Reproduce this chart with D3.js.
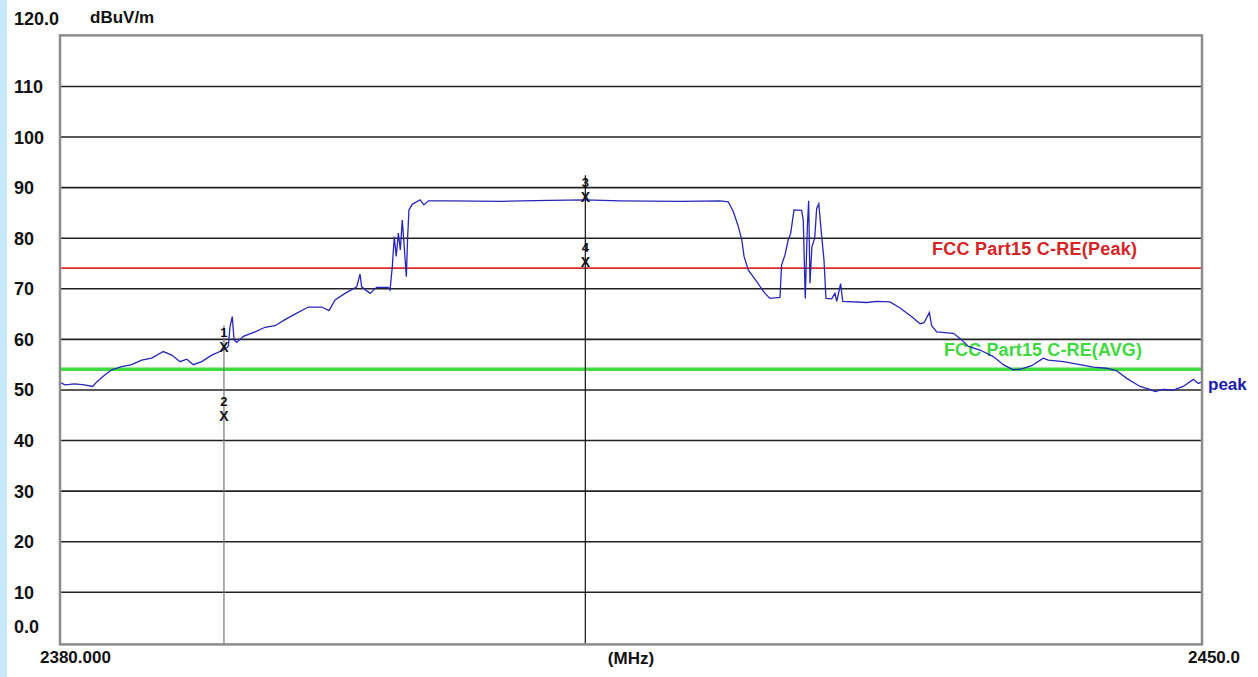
<!DOCTYPE html>
<html>
<head>
<meta charset="utf-8">
<script src="https://cdn.jsdelivr.net/npm/d3@7"></script>
<style>
  body { margin: 0; background: #fff; }
  svg text { font-family: "Liberation Sans", Arial, sans-serif; font-weight: bold; }
</style>
</head>
<body>
<div id="chart"></div>
<script>
// peak trace (MHz, dBuV/m)
var freq = [2380.0, 2380.3, 2380.9, 2381.5, 2382.0, 2382.25, 2382.76, 2383.17, 2383.78, 2384.39,
            2385.01, 2385.62, 2386.33, 2386.85, 2387.36, 2387.77, 2388.17, 2388.69, 2389.30, 2390.01,
            2390.32, 2390.42, 2390.56, 2390.67, 2390.83, 2391.24, 2391.95, 2392.57, 2393.18, 2393.79,
            2394.40, 2395.22, 2396.04, 2396.49, 2396.86, 2397.47, 2398.19, 2398.39, 2398.49, 2399.00,
            2399.41, 2400.12, 2400.23, 2400.37, 2400.49, 2400.61, 2400.74, 2400.86, 2400.98, 2401.10,
            2401.23, 2401.31, 2401.39, 2401.59, 2402.07, 2402.31, 2402.58, 2403.91, 2406.97, 2410.04,
            2412.18, 2414.33, 2418.00, 2420.46, 2420.96, 2421.27, 2421.58, 2421.79, 2421.93, 2422.19,
            2422.71, 2423.21, 2423.52, 2424.13, 2424.23, 2424.44, 2424.64, 2424.79, 2424.99, 2425.46,
            2425.56, 2425.68, 2425.81, 2425.89, 2425.97, 2426.09, 2426.26, 2426.38, 2426.51, 2426.67,
            2426.83, 2426.95, 2427.30, 2427.50, 2427.61, 2427.85, 2427.98, 2429.45, 2430.06, 2430.88,
            2431.49, 2432.21, 2432.72, 2432.96, 2433.29, 2433.43, 2433.74, 2434.76, 2435.17, 2435.68,
            2436.39, 2437.21, 2437.82, 2438.43, 2438.84, 2439.56, 2440.27, 2440.58, 2441.50, 2442.52,
            2443.34, 2444.16, 2444.77, 2445.39, 2446.20, 2446.81, 2447.12, 2447.63, 2448.24, 2448.85,
            2449.47, 2449.77, 2450.0];
var peak = [51.4, 50.9, 51.1, 50.9, 50.6, 51.5, 52.9, 53.9, 54.5, 54.9,
            55.8, 56.2, 57.5, 56.8, 55.5, 56.0, 54.9, 55.5, 56.8, 57.8,
            58.5, 62.4, 64.4, 59.8, 59.3, 60.5, 61.4, 62.3, 62.6, 63.8,
            64.9, 66.3, 66.3, 65.6, 67.7, 69.0, 70.3, 72.8, 70.3, 69.0,
            70.2, 70.2, 69.7, 74.3, 80.2, 76.3, 80.9, 77.6, 83.5, 78.2,
            72.3, 80.2, 85.5, 86.6, 87.5, 86.5, 87.3, 87.3, 87.2, 87.4,
            87.5, 87.3, 87.2, 87.3, 87.1, 85.2, 82.2, 79.6, 76.3, 73.6,
            71.3, 69.0, 68.0, 68.2, 74.6, 76.6, 79.6, 80.9, 85.5, 85.4,
            83.5, 68.0, 82.2, 87.3, 71.0, 78.2, 79.9, 85.8, 86.7, 80.9,
            75.6, 68.0, 67.9, 69.0, 67.4, 70.9, 67.4, 67.2, 67.4, 67.3,
            66.1, 64.4, 63.0, 63.2, 65.2, 62.6, 61.4, 61.1, 60.1, 58.5,
            57.8, 56.5, 54.9, 53.9, 54.0, 54.7, 56.2, 55.8, 55.5, 54.9,
            54.4, 54.2, 53.7, 52.2, 50.6, 50.0, 49.6, 50.0, 49.9, 50.6,
            52.0, 51.2, 51.5];

var yTicks = [0, 10, 20, 30, 40, 50, 60, 70, 80, 90, 100, 110, 120];
var yTickLabels = ["0.0", "10", "20", "30", "40", "50", "60", "70", "80", "90", "100", "110", "120.0"];

var limitNames = ["FCC Part15 C-RE(Peak)", "FCC Part15 C-RE(AVG)"];
var limitValues = [74, 54];

var markerIds = ["1", "2", "3", "4"];
var markerFreq = [2390.05, 2390.05, 2412.2, 2412.2];
var markerLevel = [58.3, 44.8, 88.0, 75.3];

var W = 1258, H = 677;
var pL = 60, pR = 1202, pT = 35.4, pB = 642.4;

var x = d3.scaleLinear().domain([2380, 2450]).range([pL, pR]);
var y = d3.scaleLinear().domain([0, 120]).range([pB, pT]);

var svg = d3.select('#chart').append('svg')
  .attr('width', W).attr('height', H);

svg.append('rect').attr('x', 0).attr('y', 0).attr('width', 7).attr('height', H)
  .attr('fill', '#c6eafa');

// horizontal grid + y labels
var yAxis = svg.append('g')
  .attr('transform', 'translate(' + pL + ',0)')
  .call(d3.axisLeft(y).tickValues(yTicks)
    .tickSize(-(pR - pL))
    .tickFormat(function(d, i) { return yTickLabels[i]; }));
yAxis.select('.domain').remove();
yAxis.selectAll('.tick line')
  .attr('stroke', function(d) { return (d == 0 || d == 120) ? 'none' : '#222'; })
  .attr('stroke-width', 1.6);
yAxis.selectAll('.tick text')
  .attr('x', 14 - pL)
  .attr('dy', function(d) { return d == 0 ? '-0.55em' : (d == 120 ? '-0.6em' : '0.36em'); })
  .attr('text-anchor', 'start')
  .attr('fill', '#111')
  .style('font-size', '18px');

svg.append('text').attr('x', 90).attr('y', 23).attr('fill', '#111')
  .style('font-size', '17px').text('dBuV/m');

// limit lines
var limColors = ['#dd2b2b', '#3fdc3f'];
var limWidths = [1.6, 3.4];
svg.selectAll('line.limit').data(limitValues).enter().append('line')
  .attr('class', 'limit')
  .attr('x1', pL).attr('x2', pR)
  .attr('y1', function(d) { return y(d); }).attr('y2', function(d) { return y(d); })
  .attr('stroke', function(d, i) { return limColors[i]; })
  .attr('stroke-width', function(d, i) { return limWidths[i]; });

var labX = [932, 944];
var labDy = [-13, -13];
svg.selectAll('text.limit').data(limitNames).enter().append('text')
  .attr('class', 'limit')
  .attr('x', function(d, i) { return labX[i]; })
  .attr('y', function(d, i) { return y(limitValues[i]) + labDy[i]; })
  .attr('fill', function(d, i) { return i == 0 ? '#d42424' : '#40d840'; })
  .style('font-size', '18px')
  .attr('textLength', function(d, i) { return i == 0 ? 205 : 198; })
  .text(function(d) { return d; });

// marker lines
var mLineColor = ['#777', '#777', '#111', '#111'];
svg.selectAll('line.mk').data([0, 2]).enter().append('line')
  .attr('class', 'mk')
  .attr('x1', function(i) { return x(markerFreq[i]); })
  .attr('x2', function(i) { return x(markerFreq[i]); })
  .attr('y1', function(i) { return y(markerLevel[i]) - 22; })
  .attr('y2', pB + 2)
  .attr('stroke', function(i) { return mLineColor[i]; })
  .attr('stroke-width', 1.2);

// trace
var pts = freq.map(function(f, i) { return [f, peak[i]]; });
var line = d3.line()
  .x(function(d) { return x(d[0]); })
  .y(function(d) { return y(d[1]); });
svg.append('path').datum(pts)
  .attr('d', line)
  .attr('fill', 'none')
  .attr('stroke', '#2626b8')
  .attr('stroke-width', 1.3);

svg.append('text').attr('x', 1208).attr('y', y(peak[peak.length - 1]) + 8)
  .attr('fill', '#1b1bb0').style('font-size', '17px').text('peak');

// markers
var mk = svg.selectAll('g.marker').data(markerIds).enter().append('g')
  .attr('class', 'marker')
  .attr('transform', function(d, i) {
    return 'translate(' + x(markerFreq[i]) + ',' + y(markerLevel[i]) + ')';
  });
mk.append('text').attr('text-anchor', 'middle').attr('y', 5)
  .attr('fill', '#111').style('font-size', '14px').text('X');
mk.append('text').attr('text-anchor', 'middle').attr('y', -10)
  .attr('fill', '#111').style('font-size', '13px').text(function(d) { return d; });

// frame
svg.append('rect').attr('x', pL).attr('y', pT)
  .attr('width', pR - pL).attr('height', pB + 2 - pT)
  .attr('fill', 'none').attr('stroke', '#8c8c8c').attr('stroke-width', 2.5);

// x labels
var xLab = svg.append('g').attr('fill', '#111').style('font-size', '17px');
xLab.append('text').attr('x', x(2380) - 20).attr('y', 663).text('2380.000');
xLab.append('text').attr('x', (pL + pR) / 2).attr('y', 664).attr('text-anchor', 'middle').text('(MHz)');
xLab.append('text').attr('x', x(2450) - 14).attr('y', 663).text('2450.0');
</script>
</body>
</html>
